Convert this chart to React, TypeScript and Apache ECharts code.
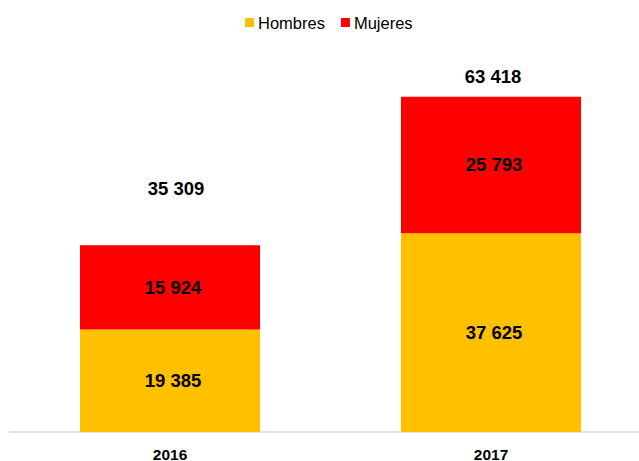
import React, { useEffect, useRef } from "react";
import * as echarts from "echarts";

const years = ["2016", "2017"];
const hombres = [19385, 37625];
const mujeres = [15924, 25793];
const totalOffsets = [[6, -57], [2, -20]];

const fmt = (v: number) => String(Math.round(v)).replace(/\B(?=(\d{3})+(?!\d))/g, " ");

export default function App() {
  const ref = useRef<HTMLDivElement>(null);
  useEffect(() => {
    if (!ref.current) return;
    const chart = echarts.init(ref.current, null, { renderer: "svg" });
    const totals = hombres.map((h, i) => h + mujeres[i]);
    const font = "Liberation Sans, Arial, sans-serif";
    const labelStyle = {
      show: true,
      position: "inside",
      fontSize: 18.5,
      fontWeight: "bold",
      color: "#000",
      fontFamily: font,
      offset: [3, 0],
      formatter: (p: any) => fmt(p.value),
    };
    chart.setOption({
      animation: false,
      textStyle: { fontFamily: font },
      legend: {
        top: 9,
        left: 240,
        data: ["Hombres", "Mujeres"],
        icon: "rect",
        itemWidth: 9,
        itemHeight: 9,
        itemGap: 16,
        textStyle: { fontSize: 16.5, color: "#000", fontFamily: font, padding: [0, 0, 0, -1] },
      },
      grid: { left: 9.5, width: 642, top: 62, bottom: 29, outerBoundsMode: "none", containLabel: false },
      xAxis: {
        type: "category",
        data: years,
        axisLine: { lineStyle: { color: "#d9d9d9", width: 1.5 } },
        axisTick: { show: false },
        axisLabel: { fontSize: 15.5, fontWeight: "bold", color: "#000", margin: 14, fontFamily: font },
      },
      yAxis: {
        type: "value",
        min: 0,
        max: 70000,
        show: false,
        splitLine: { show: false },
      },
      series: [
        {
          name: "Hombres",
          type: "bar",
          stack: "t",
          data: hombres,
          barWidth: 180,
          itemStyle: { color: "#FFC000" },
          label: labelStyle,
        },
        {
          name: "Mujeres",
          type: "bar",
          stack: "t",
          data: mujeres,
          barWidth: 180,
          itemStyle: { color: "#FF0000" },
          label: labelStyle,
        },
        {
          name: "Total",
          type: "scatter",
          symbolSize: 0,
          itemStyle: { opacity: 1, color: "#000" },
          data: totals.map((t, i) => ({
            value: t,
            label: { offset: totalOffsets[i] },
          })),
          label: { ...labelStyle, offset: undefined },
          tooltip: { show: false },
        },
      ],
    });
    return () => chart.dispose();
  }, []);
  return <div ref={ref} style={{ width: 639, height: 461, position: "absolute", left: 0, top: 0 }} />;
}
